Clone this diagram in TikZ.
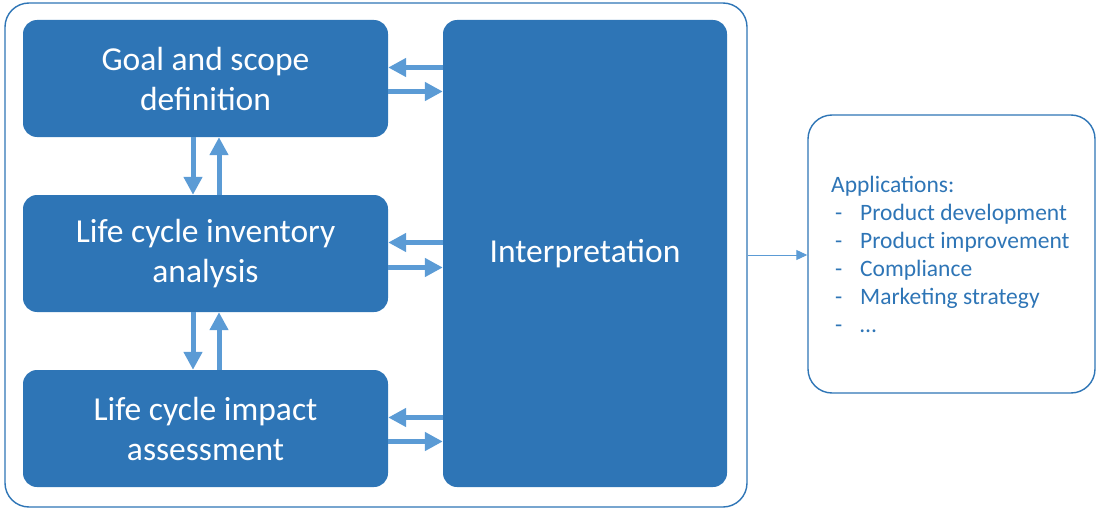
\documentclass[tikz,border=0pt]{standalone}
\usepackage{fontspec}
\setmainfont{Carlito}
\usetikzlibrary{arrows.meta}
\definecolor{boxblue}{HTML}{2E75B6}
\definecolor{arrowblue}{HTML}{5B9BD5}
\tikzset{
  stage/.style = {fill = boxblue, draw = none, rounded corners = 14pt, text = white,
                  font = \fontsize{33.5}{40}\selectfont, align = center},
  frame/.style = {draw = boxblue, line width = 1.4pt, rounded corners = 24pt},
  bigarrow/.style = {arrowblue, line width = 5pt, -{Triangle[length = 18pt, width = 18pt]}},
  thinarrow/.style = {arrowblue, line width = 1pt, -{Triangle[length = 11pt, width = 10pt]}}
}
\begin{document}
\begin{tikzpicture}[x=1pt,y=-1pt]
		\useasboundingbox (0, 0) rectangle (1096, 511);
		%%%%%%%%%%%%%
		\node[frame, minimum width = 742pt, minimum height = 504pt] (outer) at (376, 255) {};
		\node[frame, minimum width = 287pt, minimum height = 278pt] (apps) at (951.5, 254) {};
		%%%%%%%%%%%%%
		\node[stage, minimum width = 365pt, minimum height = 117pt] (goal) at (205.5, 78.5) {Goal and scope\\definition};
		\node[stage, minimum width = 365pt, minimum height = 117pt] (lci) at (205.5, 253.5) {Life cycle inventory\\analysis};
		\node[stage, minimum width = 365pt, minimum height = 117pt] (lcia) at (205.5, 428.5) {Life cycle impact\\assessment};
		\node[stage, minimum width = 284pt, minimum height = 467pt] (interp) at (585, 253.5) {\raisebox{-3pt}{Interpretation}};
		%%%%%%%%%%%%%
		\node[anchor = north west, align = left, text = boxblue, font = \fontsize{23.5}{28}\selectfont, inner sep = 0pt] (list) at (831, 176) {Applications:\\
			\makebox[29pt][l]{\,-}Product development\\
			\makebox[29pt][l]{\,-}Product improvement\\
			\makebox[29pt][l]{\,-}Compliance\\
			\makebox[29pt][l]{\,-}Marketing strategy\\
			\makebox[29pt][l]{\,-}\dots};
		%%%%%%%%%%%%%
		\draw[bigarrow] ([yshift = 11pt]goal.east -| interp.west) to ([yshift = 11pt]goal.east);
		\draw[bigarrow] ([yshift = -13pt]goal.east) to ([yshift = -13pt]goal.east -| interp.west);
		\draw[bigarrow] ([yshift = 11pt]lci.east -| interp.west) to ([yshift = 11pt]lci.east);
		\draw[bigarrow] ([yshift = -14pt]lci.east) to ([yshift = -14pt]lci.east -| interp.west);
		\draw[bigarrow] ([yshift = 11pt]lcia.east -| interp.west) to ([yshift = 11pt]lcia.east);
		\draw[bigarrow] ([yshift = -13pt]lcia.east) to ([yshift = -13pt]lcia.east -| interp.west);
		\draw[bigarrow] ([xshift = -12.5pt]goal.south) to ([xshift = -12.5pt]lci.north);
		\draw[bigarrow] ([xshift = 13.5pt]lci.north) to ([xshift = 13.5pt]goal.south);
		\draw[bigarrow] ([xshift = -12.5pt]lci.south) to ([xshift = -12.5pt]lcia.north);
		\draw[bigarrow] ([xshift = 13.5pt]lcia.north) to ([xshift = 13.5pt]lci.south);
		\draw[thinarrow] (outer.east) to (outer.east -| apps.west);
	\end{tikzpicture}
\end{document}
